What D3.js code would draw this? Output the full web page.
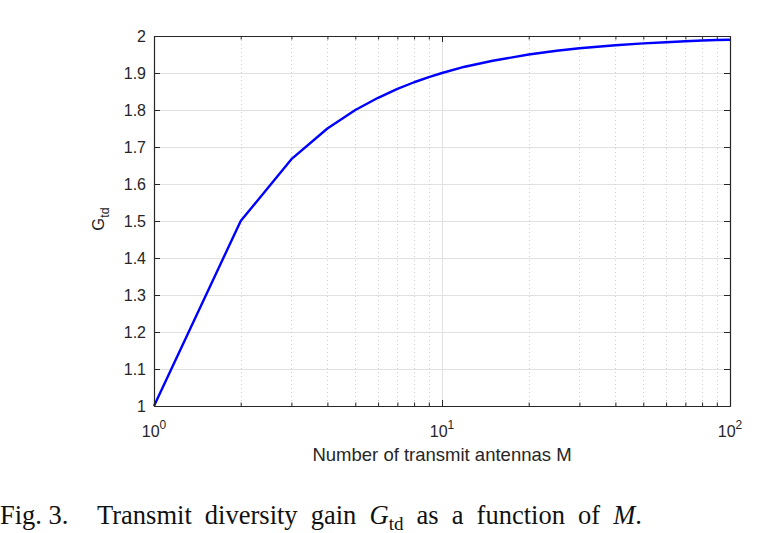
<!DOCTYPE html>
<html><head><meta charset="utf-8">
<script src="https://cdn.jsdelivr.net/npm/d3@7"></script>
<style>body{margin:0;background:#fff}svg{display:block}</style>
</head><body>
<script>
const antennas = [1,2,3,4,5,6,7,8,9,10,12,15,20,25,30,40,50,60,70,80,90,100];
const gain =     [1.000,1.500,1.667,1.750,1.800,1.833,1.857,1.875,1.889,1.900,1.917,1.933,1.950,1.960,1.967,1.975,1.980,1.983,1.986,1.988,1.989,1.990];
const yTicks = [1,1.1,1.2,1.3,1.4,1.5,1.6,1.7,1.8,1.9,2];
const xMajor = [1,10,100];
const xMinor = [2,3,4,5,6,7,8,9,20,30,40,50,60,70,80,90];
const xLabel = "Number of transmit antennas M";

(function(){
const W=760,H=533, L=154,R=730,T=36,B=406;
const svg=d3.select("body").append("svg").attr("width",W).attr("height",H);
const x=d3.scaleLog().domain([1,100]).range([L,R]);
const y=d3.scaleLinear().domain([1,2]).range([B,T]);
const axisCol="#262626";
const font="Liberation Sans, Arial, sans-serif";

// grid
const g=svg.append("g");
g.selectAll(".gy").data(yTicks).join("line").attr("x1",L).attr("x2",R)
 .attr("y1",d=>y(d)+0.5).attr("y2",d=>y(d)+0.5).attr("stroke","#e1e1e1").attr("stroke-width",1);
g.selectAll(".gxm").data(xMinor).join("line").attr("x1",d=>Math.round(x(d))+0.5).attr("x2",d=>Math.round(x(d))+0.5)
 .attr("y1",T).attr("y2",B).attr("stroke","#d0d0d0").attr("stroke-width",1).attr("stroke-dasharray","1,3");
g.selectAll(".gxM").data([10]).join("line").attr("x1",d=>Math.round(x(d))+0.5).attr("x2",d=>Math.round(x(d))+0.5)
 .attr("y1",T).attr("y2",B).attr("stroke","#e1e1e1").attr("stroke-width",1);

// line
svg.append("path").datum(antennas.map((m,i)=>[m,gain[i]]))
 .attr("d",d3.line().x(d=>x(d[0])).y(d=>y(d[1])))
 .attr("fill","none").attr("stroke","#0000ff").attr("stroke-width",2.4).attr("stroke-linejoin","round");

// axes (MATLAB-style inside ticks)
const ax=svg.append("g");
const axB=d3.axisBottom(x).tickValues(xMajor).tickSizeInner(-6).tickSizeOuter(0).tickFormat(()=>"");
ax.append("g").attr("transform",`translate(0,${B})`).call(axB);
const axBm=d3.axisBottom(x).tickValues(xMinor).tickSizeInner(-3.5).tickSizeOuter(0).tickFormat(()=>"");
ax.append("g").attr("transform",`translate(0,${B})`).call(axBm);
const axT=d3.axisTop(x).tickValues(xMajor).tickSizeInner(-6).tickSizeOuter(0).tickFormat(()=>"");
ax.append("g").attr("transform",`translate(0,${T})`).call(axT);
const axTm=d3.axisTop(x).tickValues(xMinor).tickSizeInner(-3.5).tickSizeOuter(0).tickFormat(()=>"");
ax.append("g").attr("transform",`translate(0,${T})`).call(axTm);
const axL=d3.axisLeft(y).tickValues(yTicks).tickSizeInner(-6).tickSizeOuter(0).tickPadding(8).tickFormat(d3.format("~g"));
ax.append("g").attr("transform",`translate(${L},0)`).call(axL);
const axR=d3.axisRight(y).tickValues(yTicks).tickSizeInner(-6).tickSizeOuter(0).tickFormat(()=>"");
ax.append("g").attr("transform",`translate(${R},0)`).call(axR);
ax.selectAll("path.domain").attr("stroke",axisCol).attr("stroke-width",1.2);
ax.selectAll(".tick line").attr("stroke",axisCol);
ax.selectAll("text").attr("fill",axisCol).style("font-family",font).style("font-size","16px");

// x tick labels 10^n
xMajor.forEach((v)=>{
  const t=svg.append("text").attr("x",x(v)).attr("y",B+31).attr("text-anchor","middle")
   .attr("fill",axisCol).style("font-family",font).style("font-size","16px");
  t.append("tspan").text("10");
  t.append("tspan").attr("dy",-8).style("font-size","12px").text(String(Math.round(Math.log10(v))));
});

// x axis title
svg.append("text").attr("x",(L+R)/2).attr("y",B+55).attr("text-anchor","middle")
 .attr("fill",axisCol).style("font-family",font).style("font-size","18.5px").text(xLabel);

// y axis title
const yt=svg.append("text").attr("transform",`translate(104,219) rotate(-90)`).attr("text-anchor","middle")
 .attr("fill",axisCol).style("font-family",font).style("font-size","16.5px");
yt.append("tspan").text("G");
yt.append("tspan").attr("dy",5).style("font-size","12.5px").text("td");

// caption
const serif="Liberation Serif, Times New Roman, serif";
const cap=svg.append("text").attr("y",524).attr("fill","#111").style("font-family",serif).style("font-size","26.5px");
cap.append("tspan").attr("x",0).text("Fig. 3.");
const rest=[
  cap.append("tspan").attr("x",97).text("Transmit diversity gain "),
  cap.append("tspan").style("font-style","italic").text("G"),
  cap.append("tspan").attr("dy",6).style("font-size","19px").text("td"),
  cap.append("tspan").attr("dy",-6).text(" as a function of "),
  cap.append("tspan").style("font-style","italic").text("M"),
  cap.append("tspan").text(".")
];
rest.forEach(s=>s.style("word-spacing","6.5px"));
})();
</script>
</body></html>
